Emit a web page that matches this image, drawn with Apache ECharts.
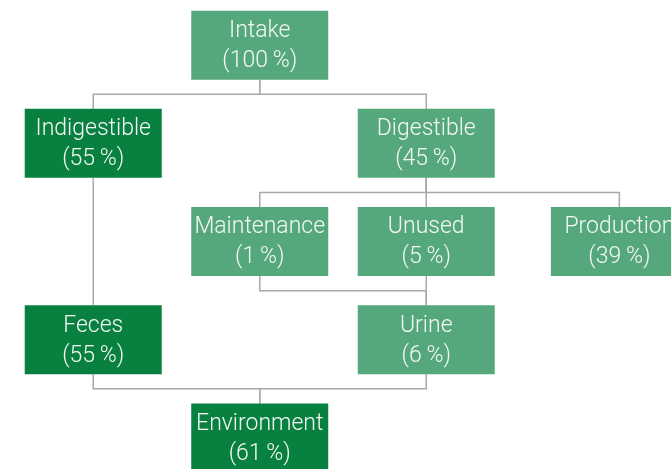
<!DOCTYPE html>
<html><head><meta charset="utf-8">
<script src="https://cdn.jsdelivr.net/npm/echarts@6/dist/echarts.min.js"></script>
<style>html,body{margin:0;padding:0;background:#fff}#c{width:671px;height:469px}</style>
</head><body><div id="c"></div>
<script>
// --- data ---
const nodeNames   = ['Intake','Indigestible','Digestible','Maintenance','Unused','Production','Feces','Urine','Environment'];
const nodeShares  = [100, 55, 45, 1, 5, 39, 55, 6, 61];
const nodeColumns = [1, 0, 2, 1, 2, 3.16, 0, 2, 1];
const nodeLevels  = [0, 1, 1, 2, 2, 2, 3, 3, 4];
const nodeKinds   = ['light','dark','light','light','light','light','dark','light','dark'];
const links = [
  ['Intake','Indigestible'], ['Intake','Digestible'],
  ['Digestible','Maintenance'], ['Digestible','Unused'], ['Digestible','Production'],
  ['Indigestible','Feces'], ['Maintenance','Urine'], ['Unused','Urine'],
  ['Feces','Environment'], ['Urine','Environment']
];

// --- styles ---
const BOX_W = 137, BOX_H = 69;
const COLORS = { light: '#55a87c', dark: '#08803f' };
const LINE_COLOR = '#a9a9a9';

const idx = n => nodeNames.indexOf(n);
const nodeData = nodeNames.map((n, i) => [nodeColumns[i], nodeLevels[i], i]);
const linkData = links.map(([a, b]) => {
  const i = idx(a), j = idx(b);
  return [nodeColumns[i], nodeLevels[i], nodeColumns[j], nodeLevels[j]];
});

const chart = echarts.init(document.getElementById('c'), null, { renderer: 'canvas' });
chart.setOption({
  animation: false,
  grid: { left: 0, top: 0, right: 0, bottom: 0, containLabel: false },
  xAxis: { type: 'value', min: -0.56, max: -0.56 + 671 / 166.5, show: false },
  yAxis: { type: 'value', min: -0.46, max: -0.46 + 469 / 98.2, inverse: true, show: false },
  series: [
    {
      type: 'custom', z: 1, clip: false,
      data: linkData,
      encode: { x: [0, 2], y: [1, 3] },
      renderItem: function (params, api) {
        const p0 = api.coord([api.value(0), api.value(1)]);
        const p1 = api.coord([api.value(2), api.value(3)]);
        const mid = api.coord([0, api.value(3) - 0.5])[1];
        return {
          type: 'polyline',
          shape: { points: [[p0[0], p0[1] + BOX_H / 2], [p0[0], mid], [p1[0], mid], [p1[0], p1[1] - BOX_H / 2]] },
          style: { stroke: LINE_COLOR, lineWidth: 1.5, fill: null }
        };
      }
    },
    {
      type: 'custom', z: 2, clip: false,
      data: nodeData,
      encode: { x: 0, y: 1 },
      renderItem: function (params, api) {
        const i = api.value(2);
        const p = api.coord([api.value(0), api.value(1)]);
        return {
          type: 'group',
          children: [
            { type: 'rect', shape: { x: p[0] - BOX_W / 2, y: p[1] - BOX_H / 2, width: BOX_W, height: BOX_H },
              style: { fill: COLORS[nodeKinds[i]] } },
            { type: 'text', x: p[0], y: p[1] + 1,
              style: { text: nodeNames[i] + '\n(' + nodeShares[i] + '\u2009%)', fill: '#f4f8f5',
                font: '300 23px Roboto, "Liberation Sans", Arial, sans-serif', align: 'center', verticalAlign: 'middle', lineHeight: 30 } }
          ]
        };
      }
    }
  ]
});
</script></body></html>
